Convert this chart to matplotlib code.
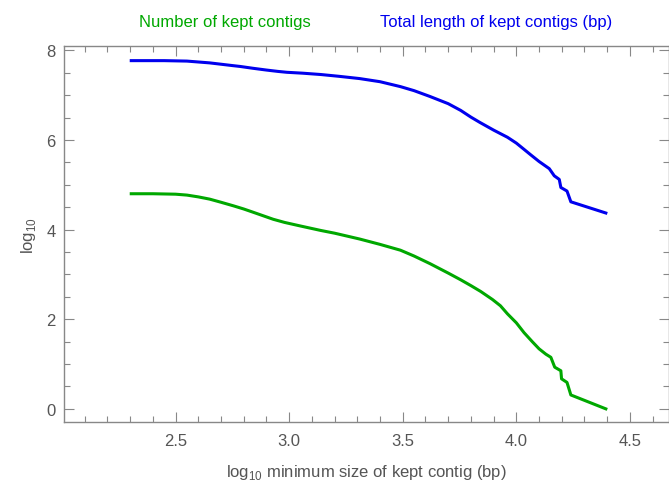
import matplotlib
matplotlib.use("Agg")
import matplotlib.pyplot as plt
from matplotlib.ticker import MultipleLocator

plt.rcParams['font.family'] = ['Liberation Sans', 'DejaVu Sans']
plt.rcParams['mathtext.fontset'] = 'custom'
plt.rcParams['mathtext.rm'] = 'Liberation Sans'

# log10 minimum contig size (x) and log10 values
x_count = [2.305, 2.40, 2.50, 2.55, 2.60, 2.65, 2.70, 2.755, 2.80, 2.84, 2.885, 2.93, 2.98,
           3.05, 3.14, 3.20, 3.31, 3.40, 3.49, 3.55, 3.62, 3.70, 3.755, 3.80,
           3.843, 3.895, 3.93, 3.961, 4.00, 4.034, 4.07, 4.10, 4.13, 4.152, 4.169,
           4.196, 4.199, 4.223, 4.240, 4.394]
n_count = [4.80, 4.80, 4.79, 4.77, 4.73, 4.68, 4.61, 4.53, 4.46, 4.39, 4.31, 4.23, 4.16,
           4.08, 3.98, 3.92, 3.79, 3.67, 3.54, 3.41, 3.24, 3.03, 2.88, 2.75,
           2.62, 2.44, 2.30, 2.12, 1.92, 1.70, 1.50, 1.34, 1.22, 1.15, 0.93,
           0.85, 0.67, 0.59, 0.31, 0.0]

x_len = [2.305, 2.45, 2.55, 2.60, 2.65, 2.70, 2.75, 2.785, 2.84, 2.90, 2.95, 2.99, 3.06,
         3.14, 3.22, 3.31, 3.40, 3.49, 3.55, 3.62, 3.70, 3.755, 3.80, 3.84, 3.90,
         3.961, 4.00, 4.034, 4.063, 4.10, 4.145, 4.167, 4.189, 4.196, 4.223, 4.240, 4.394]
total_len = [7.77, 7.77, 7.76, 7.74, 7.72, 7.69, 7.66, 7.64, 7.60, 7.56, 7.53, 7.51, 7.49,
             7.46, 7.42, 7.37, 7.30, 7.19, 7.10, 6.97, 6.81, 6.66, 6.51, 6.39, 6.22,
             6.06, 5.93, 5.79, 5.67, 5.52, 5.36, 5.20, 5.12, 4.94, 4.86, 4.62, 4.37]

green = '#00a800'
blue = '#0000ee'
gray = '#888888'

fig = plt.figure(figsize=(6.69, 4.85), dpi=100)
ax = fig.add_axes([64 / 669, 61.7 / 485, 605 / 669, 376 / 485])

ax.plot(x_count, n_count, color=green, lw=2.2)
ax.plot(x_len, total_len, color=blue, lw=2.2)

ax.set_xlim(2.009, 4.672)
ax.set_ylim(-0.30, 8.09)
ax.xaxis.set_major_locator(MultipleLocator(0.5))
ax.xaxis.set_minor_locator(MultipleLocator(0.1))
ax.yaxis.set_major_locator(MultipleLocator(2))
ax.yaxis.set_minor_locator(MultipleLocator(0.5))
ax.set_xticks([2.5, 3.0, 3.5, 4.0, 4.5])
ax.set_xticklabels(['2.5', '3.0', '3.5', '4.0', '4.5'])

for s in ax.spines.values():
    s.set_color(gray)
    s.set_linewidth(1.0)
ax.tick_params(which='both', direction='in', top=True, right=True, color=gray,
               labelcolor='#555555', labelsize=12, width=0.8)
ax.tick_params(which='major', length=7, pad=8)
ax.tick_params(which='minor', length=4)
ax.tick_params(axis='y', which='major', pad=6)

ax.set_xlabel('log$_{10}$ minimum size of kept contig (bp)', fontsize=12,
              color='#555555', labelpad=10)
ax.set_ylabel('log$_{10}$', fontsize=12, color='#555555', labelpad=6)

fig.text(225 / 669, 1 - 22 / 485, 'Number of kept contigs', color=green,
         fontsize=12, ha='center', va='center')
fig.text(496 / 669, 1 - 22 / 485, 'Total length of kept contigs (bp)', color=blue,
         fontsize=12, ha='center', va='center')

fig.savefig('out.png', dpi=100)
